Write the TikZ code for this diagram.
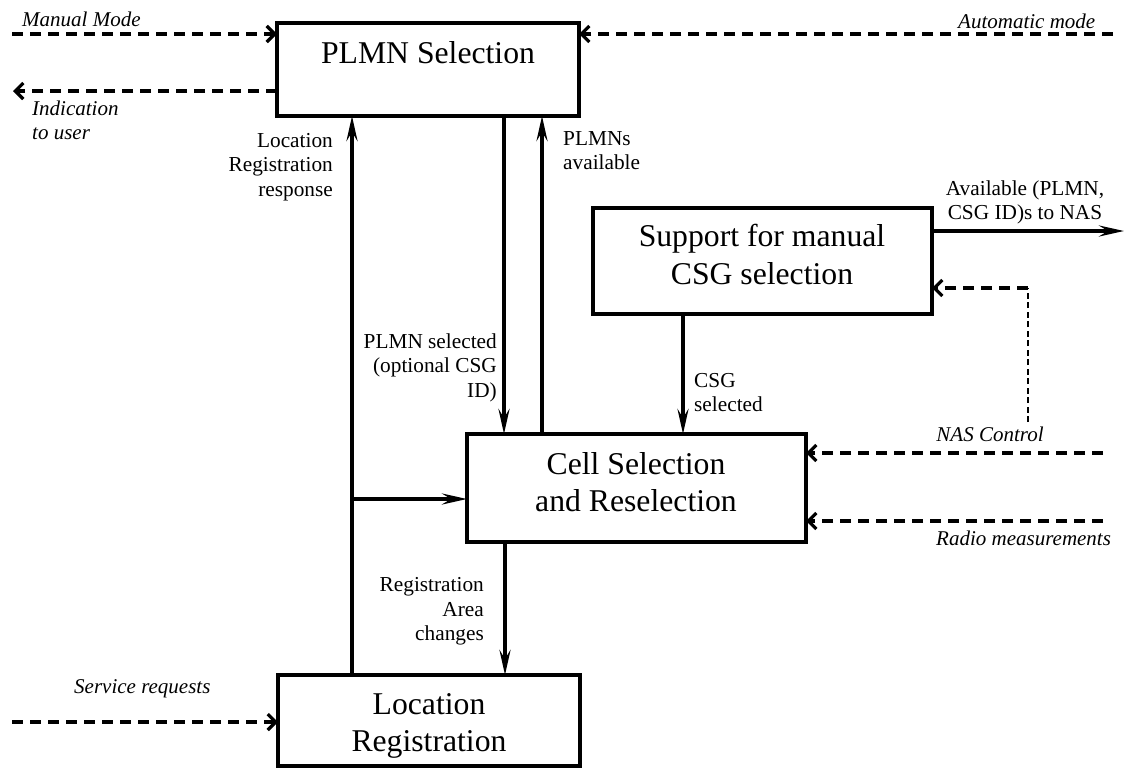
\documentclass[tikz,border=0pt]{standalone}
\usepackage{fontspec}
\setmainfont{Liberation Serif}
\usetikzlibrary{arrows.meta}
\begin{document}
\begin{tikzpicture}[x=1pt,y=-1pt,
  box/.style={draw, line width=3.4pt, inner sep=0pt, outer sep=0pt},
  big/.style={font=\fontsize{31.7}{37.5}\selectfont, align=center, inner sep=0pt},
  lbl/.style={font=\fontsize{21.3}{24.5}\selectfont, inner sep=0pt},
  ilbl/.style={font=\fontsize{21}{24}\selectfont\itshape, inner sep=0pt},
  flow/.style={line width=3.6pt, -{Stealth[length=25pt,width=11pt,inset=9pt]}},
  sig/.style={line width=3.2pt, dash pattern=on 11pt off 7pt, -{Straight Barb[length=8pt,width=16pt,line width=3.2pt]}},
  nasline/.style={line width=2.2pt, dash pattern=on 6pt off 3.5pt}]
\useasboundingbox (0,0) rectangle (1126,769);

% boxes
\node[box, minimum width=302pt, minimum height=93pt] (plmn) at (428,69.5) {};
\node[box, minimum width=339pt, minimum height=106pt] (sup) at (762.5,261) {};
\node[box, minimum width=339pt, minimum height=108pt] (cell) at (636.5,488) {};
\node[box, minimum width=302pt, minimum height=91pt] (loc) at (429,720.5) {};

% box texts
\node[big, anchor=base] (plmnT) at (428,63) {PLMN Selection};
\node[big] (supT) at (762,254.7) {Support for manual\\CSG selection};
\node[big] (cellT) at (636,482) {Cell Selection\\and Reselection};
\node[big] (locT) at (429,726) {Location\\Registration};

% coordinates
\coordinate (mm) at (12,34);
\coordinate (ind) at (13,91);
\coordinate (am) at (1113,34);
\coordinate (lrx) at (352,499);
\coordinate (psx) at (504,0);
\coordinate (pax) at (542,0);
\coordinate (csx) at (683,0);
\coordinate (avl) at (1124,231);
\coordinate (nasv) at (1028,422);
\coordinate (nasc) at (1028,288);
\coordinate (nasin) at (1103,453);
\coordinate (radio) at (1103,521);
\coordinate (rax) at (505,0);
\coordinate (srv) at (12,722);

% connectors
\draw[sig] (mm) -- (mm -| plmn.west);
\draw[sig] (plmn.west |- ind) -- (ind);
\draw[sig] (am) -- (am -| plmn.east);
\draw[flow] (loc.north -| lrx) -- (plmn.south -| lrx);
\draw[flow] (plmn.south -| psx) -- (cell.north -| psx);
\draw[flow] (cell.north -| pax) -- (plmn.south -| pax);
\draw[flow] (lrx) -- (cell.west |- lrx);
\draw[flow] (sup.south -| csx) -- (cell.north -| csx);
\draw[flow] (sup.east |- avl) -- (avl);
\draw[nasline] (nasv) -- (nasc);
\draw[sig] (nasc) -- (nasc -| sup.east);
\draw[sig] (nasin) -- (nasin -| cell.east);
\draw[sig] (radio) -- (radio -| cell.east);
\draw[flow] (cell.south -| rax) -- (loc.north -| rax);
\draw[sig] (srv) -- (srv -| loc.west);

% labels
\node[ilbl, anchor=base west] (lmm) at (22,26) {Manual Mode};
\node[ilbl, anchor=north west, align=left] (lind) at (32,100.7) {Indication\\to user};
\node[ilbl, anchor=base west] (lam) at (958,28) {Automatic mode};
\node[lbl, anchor=north east, align=right] (llr) at (333,133) {Location\\Registration\\response};
\node[lbl, anchor=north west, align=left] (lpa) at (563,131) {PLMNs\\available};
\node[lbl, anchor=north east, align=right] (lps) at (497,333.5) {PLMN selected\\(optional CSG\\ID)};
\node[lbl, anchor=north west, align=left] (lcs) at (694,372.7) {CSG\\selected};
\node[lbl, anchor=north, align=center] (lav) at (1025,180.5) {Available (PLMN,\\CSG ID)s to NAS};
\node[ilbl, anchor=base] (lnas) at (990,441) {NAS Control};
\node[ilbl, anchor=base west] (lrad) at (936,545) {Radio measurements};
\node[lbl, anchor=north east, align=right] (lra) at (484,577.5) {Registration\\Area\\changes};
\node[ilbl, anchor=base west] (lsrv) at (74,693) {Service requests};
\end{tikzpicture}
\end{document}
